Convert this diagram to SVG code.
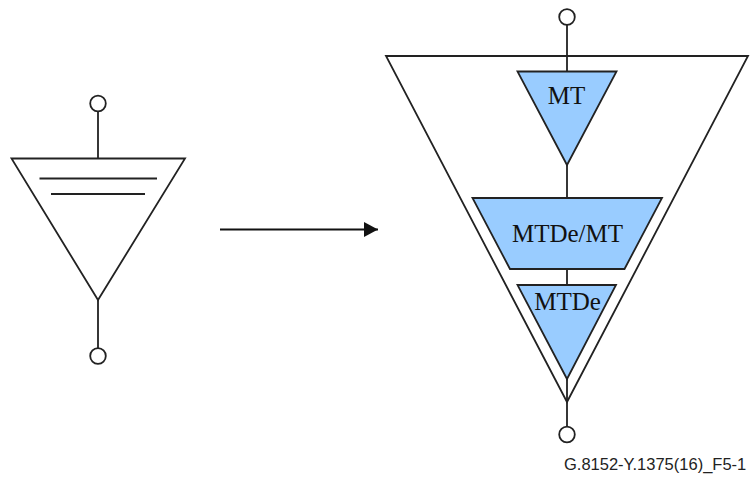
<svg xmlns="http://www.w3.org/2000/svg" width="750" height="477" viewBox="0 0 750 477">
<style>
.s{fill:none;stroke:#222;stroke-width:1.8}
.o{fill:#fff;stroke:#222;stroke-width:1.8}
.b{fill:#99ccff;stroke:#222;stroke-width:1.8;stroke-linejoin:miter}
.t{font-family:"Liberation Serif",serif;font-size:25px;fill:#111;text-anchor:middle}
</style>
<defs>
<marker id="arrow" markerUnits="userSpaceOnUse" markerWidth="16" markerHeight="16" refX="14" refY="8" orient="auto"><path d="M0 0.500 L14 8 L0 15.500 Z" fill="#111"/></marker>
</defs>
<rect width="750" height="477" fill="#fff"/>
<g id="connectors">
<path class="s" d="M98 111V158.500M98 300V348.500"/>
<path class="s" d="M567 24V71.500M567 165V198M567 269V285M567 379V428"/>
<path d="M220 229.500H378" fill="none" stroke="#111" stroke-width="1.8" marker-end="url(#arrow)"/>
</g>
<g id="left-triangle">
<polygon class="s" points="11.500,158.500 185,158.500 98,300"/>
<path class="s" d="M39.500 178.500H157M51 194H145"/>
</g>
<g id="left-top-port"><circle class="o" cx="98" cy="103.500" r="7.800"/></g>
<g id="left-bottom-port"><circle class="o" cx="98" cy="356" r="7.800"/></g>
<g id="right-triangle"><polygon class="s" points="386,56 748,56 567,402"/></g>
<g id="right-top-port"><circle class="o" cx="567" cy="17" r="7.800"/></g>
<g id="right-bottom-port"><circle class="o" cx="567" cy="434.500" r="7.800"/></g>
<g id="mt"><polygon class="b" points="517.500,71.500 616.500,71.500 567,165"/><text class="t" x="566.500" y="103.500">MT</text></g>
<g id="mtde-mt"><polygon class="b" points="472.500,198 662,198 624.500,269 510,269"/><text class="t" x="567.500" y="242">MTDe/MT</text></g>
<g id="mtde"><polygon class="b" points="517.500,285 616,285 567,379"/><text class="t" x="567.500" y="309.500">MTDe</text></g>
<g id="caption"><text x="564" y="470" font-family="Liberation Sans, sans-serif" font-size="16.500" fill="#222">G.8152-Y.1375(16)_F5-1</text></g>
</svg>
